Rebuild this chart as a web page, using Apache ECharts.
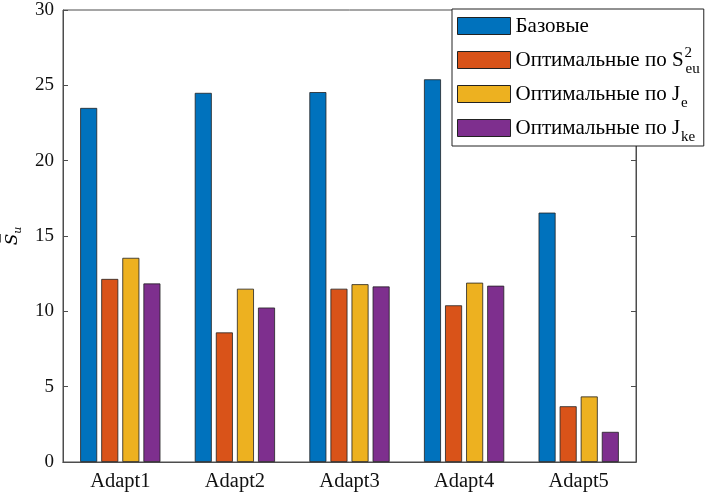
<!DOCTYPE html>
<html><head><meta charset="utf-8">
<script src="https://cdn.jsdelivr.net/npm/echarts@6/dist/echarts.min.js"></script>
<style>html,body{margin:0;padding:0;background:#fff}#c{width:707px;height:497px}</style>
</head><body><div id="c"></div>
<script>
const categories = ['Adapt1','Adapt2','Adapt3','Adapt4','Adapt5'];
const seriesNames = ['Базовые','Оптимальные по S','Оптимальные по J_e','Оптимальные по J_ke'];
const base   = [23.5, 24.5, 24.55, 25.4, 16.55];
const optS   = [12.15, 8.6, 11.5, 10.4, 3.7];
const optJe  = [13.55, 11.5, 11.8, 11.9, 4.35];
const optJke = [11.85, 10.25, 11.65, 11.7, 2.0];
const yTicks = [0, 5, 10, 15, 20, 25, 30];
const colors = ['#0072BD','#D95319','#EDB120','#7E2F8E'];
const FONT = '"Liberation Serif", "Times New Roman", serif';

const legendLabels = {
  'Базовые': '{t|Базовые}',
  'Оптимальные по S': '{t|Оптимальные по S}{sup|2}{sub|eu}',
  'Оптимальные по J_e': '{t|Оптимальные по J}{sub|e}',
  'Оптимальные по J_ke': '{t|Оптимальные по J}{sub|ke}'
};

const chart = echarts.init(document.getElementById('c'), null, {renderer:'canvas'});
const axisCol = '#4d4d4d';
const data = [base, optS, optJe, optJke];
chart.setOption({
  animation:false,
  color: colors,
  grid:{left:63, right:71, top:10, bottom:35, show:true, borderColor:axisCol, borderWidth:1,
        containLabel:false, outerBoundsMode:'none'},
  legend:{
    orient:'vertical', left:452, top:9,
    itemWidth:53, itemHeight:17, itemGap:0,
    padding:[0,4,1,5],
    backgroundColor:'#fff', borderColor:'#222', borderWidth:1,
    icon:'rect',
    itemStyle:{borderColor:'#222', borderWidth:1},
    data: seriesNames,
    formatter: n => legendLabels[n],
    textStyle:{
      fontFamily:FONT, fontSize:21, color:'#000', lineHeight:34,
      rich:{
        t:{fontFamily:FONT, fontSize:21, color:'#000', lineHeight:34, verticalAlign:'middle'},
        sup:{fontFamily:FONT, fontSize:15, color:'#000', lineHeight:15, verticalAlign:'top', padding:[3,0,0,1], width:0},
        sub:{fontFamily:FONT, fontSize:15, color:'#000', lineHeight:15, verticalAlign:'bottom', padding:[0,0,0,1]}
      }
    }
  },
  xAxis:[{
    type:'category', data:categories, position:'bottom',
    axisLine:{lineStyle:{color:axisCol}},
    axisTick:{inside:true, alignWithLabel:true, length:5, lineStyle:{color:axisCol}},
    axisLabel:{fontFamily:FONT, fontSize:20.5, color:'#111', margin:9}
  },{
    type:'category', data:categories, position:'top',
    axisLine:{lineStyle:{color:axisCol}},
    axisTick:{inside:true, alignWithLabel:true, length:5, lineStyle:{color:axisCol}},
    axisLabel:{show:false}
  }],
  yAxis:[{
    type:'value', min:0, max:30, interval:5, position:'left',
    axisLine:{show:true, lineStyle:{color:axisCol}},
    axisTick:{show:true, inside:true, length:5, lineStyle:{color:axisCol}},
    splitLine:{show:false},
    axisLabel:{fontFamily:FONT, fontSize:19, color:'#111', margin:9,
      formatter: v => yTicks.includes(v) ? String(v) : ''},
    name:'{s|S̅}{u|u}', nameLocation:'middle', nameGap:36, nameRotate:90,
    nameTextStyle:{rich:{
      s:{fontFamily:'"DejaVu Serif", serif', fontStyle:'italic', fontSize:17, color:'#000', lineHeight:24, verticalAlign:'middle'},
      u:{fontFamily:'"DejaVu Serif", serif', fontStyle:'italic', fontSize:11, color:'#000', lineHeight:11, verticalAlign:'bottom'}
    }}
  },{
    type:'value', min:0, max:30, interval:5, position:'right',
    axisLine:{show:true, lineStyle:{color:axisCol}},
    axisTick:{show:true, inside:true, length:5, lineStyle:{color:axisCol}},
    splitLine:{show:false}, axisLabel:{show:false}
  }],
  series: seriesNames.map((n,i)=>({
    name:n, type:'bar', data:data[i], xAxisIndex:0, yAxisIndex:0,
    barWidth:17, barGap:'24%',
    itemStyle:{color:colors[i], borderColor:'#222', borderWidth:0.8}
  }))
});
</script></body></html>
